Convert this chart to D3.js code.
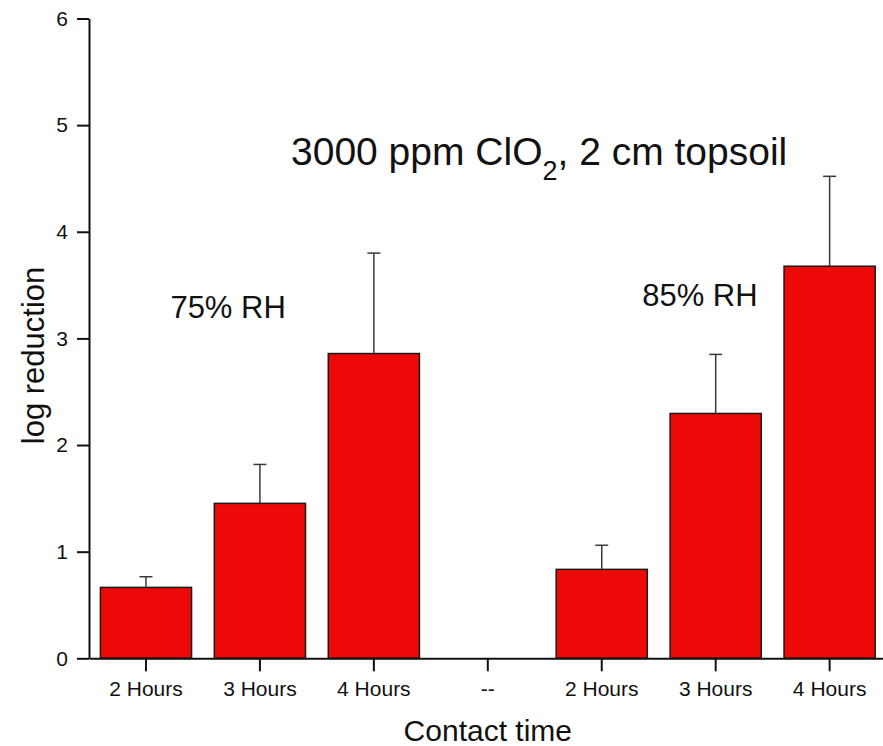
<!DOCTYPE html>
<html>
<head>
<meta charset="utf-8">
<script src="https://cdn.jsdelivr.net/npm/d3@7"></script>
<style>
  html, body { margin: 0; padding: 0; background: #fff; }
  svg { display: block; font-family: "Liberation Sans", Arial, sans-serif; }
</style>
</head>
<body>
<svg id="chart" width="883" height="746"></svg>
<script>
// ---- data ----
const categories = ["2 Hours", "3 Hours", "4 Hours", "--", "2 Hours", "3 Hours", "4 Hours"];
const values     = [0.665, 1.453, 2.858, null, 0.834, 2.296, 3.677];
const upperErr   = [0.765, 1.818, 3.80, null, 1.06, 2.85, 4.52];
const yTicks     = [0, 1, 2, 3, 4, 5, 6];
const groupLabels = ["75% RH", "85% RH"];

const svg = d3.select("#chart");

const x = d3.scaleBand()
  .domain(categories.map((d, i) => i))
  .range([89, 886.6])
  .paddingInner(0.2)
  .paddingOuter(0.1);

const y = d3.scaleLinear().domain([0, 6]).range([658.3, 18.5]);

// bars
const idx = values.map((v, i) => i).filter(i => values[i] !== null);

svg.append("g").selectAll("rect")
  .data(idx)
  .join("rect")
  .attr("x", i => x(i))
  .attr("y", i => y(values[i]))
  .attr("width", x.bandwidth())
  .attr("height", i => y(0) - y(values[i]))
  .attr("fill", "#ee0909")
  .attr("stroke", "#1a1a1a")
  .attr("stroke-width", 1.5);

// error bars (upper only)
const eg = svg.append("g").attr("stroke", "#3a3a3a").attr("stroke-width", 1.5);
eg.selectAll("line.v")
  .data(idx)
  .join("line")
  .attr("class", "v")
  .attr("x1", i => x(i) + x.bandwidth() / 2)
  .attr("x2", i => x(i) + x.bandwidth() / 2)
  .attr("y1", i => y(values[i]))
  .attr("y2", i => y(upperErr[i]));
eg.selectAll("line.c")
  .data(idx)
  .join("line")
  .attr("class", "c")
  .attr("x1", i => x(i) + x.bandwidth() / 2 - 6.5)
  .attr("x2", i => x(i) + x.bandwidth() / 2 + 6.5)
  .attr("y1", i => y(upperErr[i]))
  .attr("y2", i => y(upperErr[i]));

// y axis
const yAxis = svg.append("g")
  .attr("transform", "translate(89,0)")
  .call(d3.axisLeft(y).tickValues(yTicks).tickFormat(d3.format("d")).tickSize(12).tickSizeOuter(0).tickPadding(9));
yAxis.attr("font-size", 21).attr("font-family", "'Liberation Sans', Arial, sans-serif");
yAxis.select(".domain").attr("stroke", "#111").attr("stroke-width", 2);
yAxis.selectAll(".tick line").attr("stroke", "#111").attr("stroke-width", 2);
yAxis.selectAll(".tick text").attr("fill", "#111");

// x axis
const xAxis = svg.append("g")
  .attr("transform", `translate(0,${y(0)})`)
  .call(d3.axisBottom(x).tickFormat(i => categories[i]).tickSize(13).tickSizeOuter(0).tickPadding(10));
xAxis.attr("font-size", 21).attr("font-family", "'Liberation Sans', Arial, sans-serif");
xAxis.select(".domain").attr("stroke", "#111").attr("stroke-width", 2);
xAxis.selectAll(".tick line").attr("stroke", "#111").attr("stroke-width", 2);
xAxis.selectAll(".tick text").attr("fill", "#111");

// axis titles
svg.append("text")
  .attr("x", (x.range()[0] + x.range()[1]) / 2)
  .attr("y", 741)
  .attr("text-anchor", "middle")
  .attr("font-size", 30)
  .attr("fill", "#111")
  .text("Contact time");

svg.append("text")
  .attr("transform", `translate(44,${y(2.84)}) rotate(-90)`)
  .attr("text-anchor", "middle")
  .attr("font-size", 31)
  .attr("fill", "#111")
  .text("log reduction");

// group labels
const gl = svg.append("g").attr("font-size", 31).attr("fill", "#111");
gl.append("text").attr("x", x(0) + 70).attr("y", y(3.19)).text(groupLabels[0]);
gl.append("text").attr("x", x(4) + 86).attr("y", y(3.30)).text(groupLabels[1]);

// title
const t = svg.append("text")
  .attr("x", 291)
  .attr("y", 165)
  .attr("font-size", 39)
  .attr("fill", "#111");
t.append("tspan").text("3000 ppm ClO");
t.append("tspan").attr("font-size", 27).attr("dy", 15).text("2");
t.append("tspan").attr("dy", -15).text(", 2 cm topsoil");
</script>
</body>
</html>
